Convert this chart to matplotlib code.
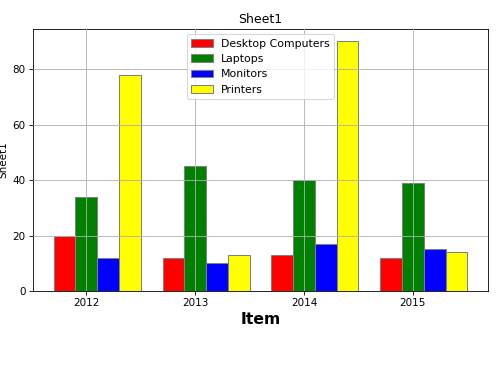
import matplotlib
matplotlib.use("Agg")
import matplotlib.pyplot as plt
import numpy as np

years = ["2012", "2013", "2014", "2015"]
series = ["Desktop Computers", "Laptops", "Monitors", "Printers"]
desktops = [20, 12, 13, 12]
laptops = [34, 45, 40, 39]
monitors = [12, 10, 17, 15]
printers = [78, 13, 90, 14]
colors = ["red", "green", "blue", "yellow"]

fig = plt.figure(figsize=(500 / 75, 375 / 75), dpi=75)
ax = fig.add_axes([0.066, 0.224, 0.91, 0.699])

x = np.arange(len(years))
width = 0.2
for i, (name, vals) in enumerate(zip(series, [desktops, laptops, monitors, printers])):
    ax.bar(x + (i - 1) * width, vals, width, label=name, color=colors[i],
           edgecolor="gray", zorder=1)

ax.set_xticks(x)
ax.set_xticklabels(years)
ax.set_title("Sheet1", fontsize=12)
ax.set_xlabel("Item", fontsize=15, fontweight="bold")
ax.set_ylabel("Sheet1")
ax.set_axisbelow(False)
ax.grid(True, zorder=3)
ax.legend(loc="upper center", fontsize=10.4)

fig.savefig("out.png", dpi=75)
